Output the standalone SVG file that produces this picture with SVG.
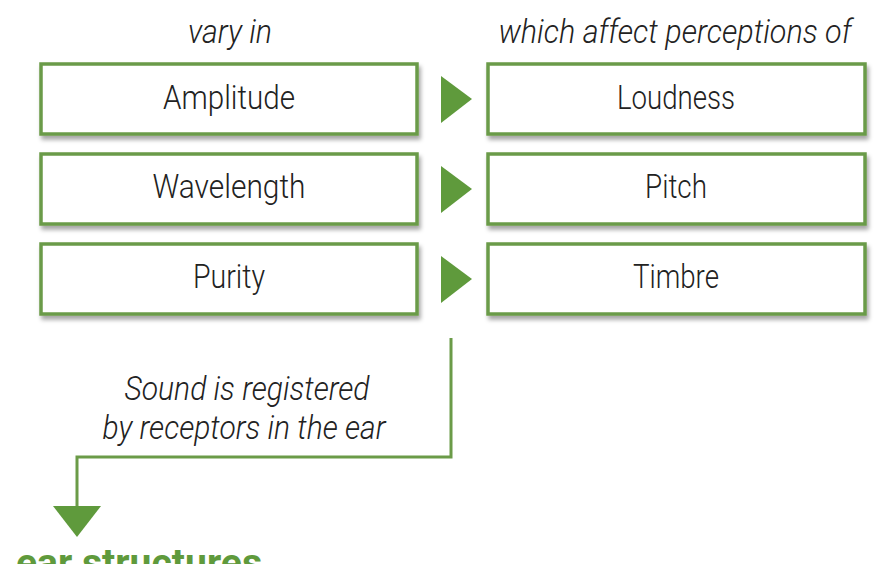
<svg xmlns="http://www.w3.org/2000/svg" width="875" height="564" viewBox="0 0 875 564">
<defs>
<filter id="sh" x="-5%" y="-20%" width="112%" height="150%">
<feDropShadow dx="2" dy="4" stdDeviation="2" flood-color="#000" flood-opacity="0.35"/>
</filter>
</defs>
<style>
.box{fill:#fff;stroke:#6b9b48;stroke-width:3.5;filter:url(#sh)}
.lbl{font-family:Roboto,"Liberation Sans",sans-serif;font-weight:300;font-size:33px;fill:#222;text-anchor:middle}
.it{font-family:Roboto,"Liberation Sans",sans-serif;font-weight:300;font-style:italic;font-size:33px;fill:#222;text-anchor:middle}
.tri{fill:#5f9a3c}
.con{fill:none;stroke:#6b9b48;stroke-width:3}
.bt{font-family:Roboto,"Liberation Sans",sans-serif;font-weight:bold;font-size:38px;fill:#5f9a3c}
</style>
<rect width="875" height="564" fill="#fff"/>
<g id="header-left"><text class="it" x="230" y="43" textLength="84" lengthAdjust="spacingAndGlyphs">vary in</text></g>
<g id="header-right"><text class="it" x="675" y="43" textLength="353" lengthAdjust="spacingAndGlyphs">which affect perceptions of</text></g>
<g id="amplitude"><rect class="box" x="41" y="64" width="376" height="70"/><text class="lbl" x="229" y="109" textLength="132" lengthAdjust="spacingAndGlyphs">Amplitude</text></g>
<g id="wavelength"><rect class="box" x="41" y="154" width="376" height="70"/><text class="lbl" x="229" y="198" textLength="153" lengthAdjust="spacingAndGlyphs">Wavelength</text></g>
<g id="purity"><rect class="box" x="41" y="244" width="376" height="70"/><text class="lbl" x="229" y="288" textLength="72" lengthAdjust="spacingAndGlyphs">Purity</text></g>
<g id="loudness"><rect class="box" x="488" y="64" width="377" height="70"/><text class="lbl" x="676" y="109" textLength="118" lengthAdjust="spacingAndGlyphs">Loudness</text></g>
<g id="pitch"><rect class="box" x="488" y="154" width="377" height="70"/><text class="lbl" x="676" y="198" textLength="62" lengthAdjust="spacingAndGlyphs">Pitch</text></g>
<g id="timbre"><rect class="box" x="488" y="244" width="377" height="70"/><text class="lbl" x="676" y="288" textLength="86" lengthAdjust="spacingAndGlyphs">Timbre</text></g>
<g id="connectors">
<polygon class="tri" points="441,76 472,99 441,123"/>
<polygon class="tri" points="441,166 472,189 441,213"/>
<polygon class="tri" points="441,256 472,279 441,303"/>
<polyline class="con" points="451,338 451,457 77,457 77,508"/>
<polygon class="tri" points="53,506 101,506 77,537"/>
<text class="it" x="247" y="400" textLength="245" lengthAdjust="spacingAndGlyphs">Sound is registered</text>
<text class="it" x="244" y="439" textLength="283" lengthAdjust="spacingAndGlyphs">by receptors in the ear</text>
</g>
<g id="ear-structures"><text class="bt" x="16" y="576" textLength="246" lengthAdjust="spacingAndGlyphs">ear structures</text></g>
</svg>
